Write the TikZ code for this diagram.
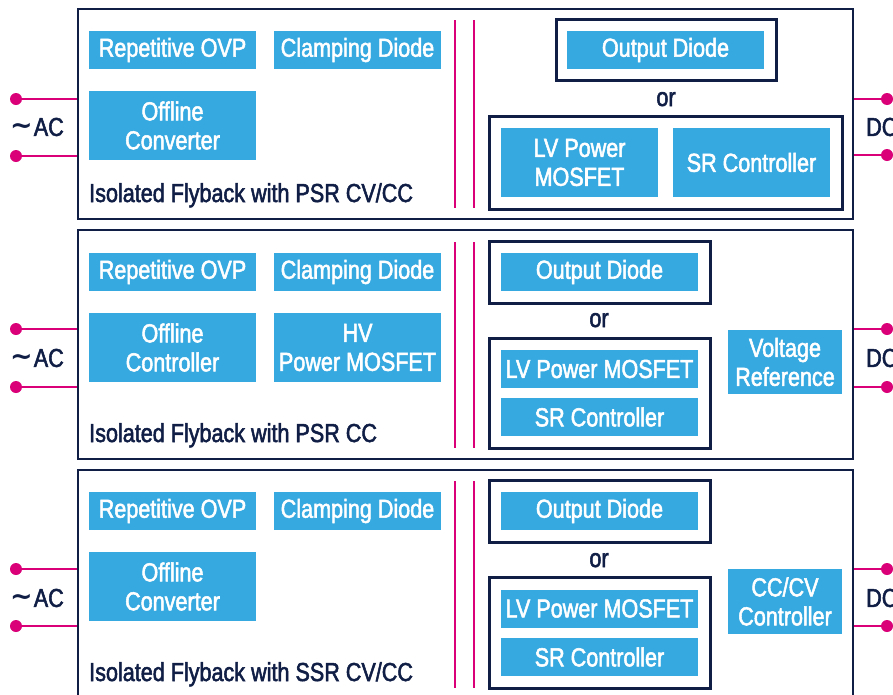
\documentclass[tikz,border=0pt]{standalone}
\usepackage{fontspec}
\setmainfont[FakeStretch=0.83,FakeBold=2]{Liberation Sans}
\newfontfamily\symfnt{DejaVu Sans}
\definecolor{stblue}{RGB}{54,169,225}
\definecolor{stnavy}{RGB}{16,30,70}
\definecolor{stpink}{RGB}{218,0,120}
\newcommand{\actxt}{{\symfnt\bfseries\fontsize{27}{27}\selectfont\raisebox{1pt}{∼}}\kern1pt AC}
\begin{document}
\begin{tikzpicture}[x=1pt,y=-1pt,
  every node/.style={font=\fontsize{26}{29}\selectfont},
  blk/.style={fill=stblue,text=white,inner sep=0pt,align=center},
  panel/.style={draw=stnavy,line width=2.4pt,inner sep=0pt},
  grp/.style={draw=stnavy,line width=3pt,inner sep=0pt},
  wire/.style={draw=stpink,line width=2pt},
  pin/.style={circle,fill=stpink,inner sep=0pt,minimum size=12pt},
  lbl/.style={text=stnavy,inner sep=0pt},
  sepline/.style={draw=stpink,line width=2pt}]
\useasboundingbox (0,0) rectangle (893,694);
\clip (0,0) rectangle (893,694);
\fill[white] (0,0) rectangle (893,694);

% ---------------- Panel 1 ----------------
\node[panel,minimum width=775pt,minimum height=210pt] (f1) at (465.5,114) {};
\node[blk,minimum width=167pt,minimum height=38pt] (ovp1) at (172.5,50) {Repetitive OVP};
\node[blk,minimum width=167pt,minimum height=38pt] (cd1) at (357.5,50) {Clamping Diode};
\node[blk,minimum width=167pt,minimum height=69pt] (off1) at (172.5,125.5) {Offline\\Converter};
\node[lbl,anchor=base west] (t1) at (89,202) {Isolated Flyback with PSR CV/CC};
\draw[sepline] (455,20) -- (455,208);
\draw[sepline] (474,20) -- (474,208);
\node[grp,minimum width=220pt,minimum height=61pt] (odf1) at (666,49.5) {};
\node[blk,minimum width=197pt,minimum height=38pt] (od1) at (665.5,50) {Output Diode};
\node[lbl,anchor=base] (or1) at (666,106) {or};
\node[grp,minimum width=353pt,minimum height=93pt] (lf1) at (665.5,162.5) {};
\node[blk,minimum width=157pt,minimum height=69pt] (lv1) at (579.5,162.5) {LV Power\\MOSFET};
\node[blk,minimum width=157pt,minimum height=69pt] (sr1) at (751.5,162.5) {SR Controller};
\node[pin] (ac1a) at (16,99) {};
\node[pin] (ac1b) at (16,156) {};
\draw[wire] (ac1a) -- (ac1a -| f1.west);
\draw[wire] (ac1b) -- (ac1b -| f1.west);
\node[lbl] (ac1) at (37,127) {\actxt};
\node[pin] (dc1a) at (887,99) {};
\node[pin] (dc1b) at (887,155) {};
\draw[wire] (dc1a) -- (dc1a -| f1.east);
\draw[wire] (dc1b) -- (dc1b -| f1.east);
\node[lbl,anchor=west] (dc1) at (866,127) {DC};

% ---------------- Panel 2 ----------------
\node[panel,minimum width=775pt,minimum height=229pt] (f2) at (465.5,344.5) {};
\node[blk,minimum width=167pt,minimum height=38pt] (ovp2) at (172.5,272) {Repetitive OVP};
\node[blk,minimum width=167pt,minimum height=38pt] (cd2) at (357.5,272) {Clamping Diode};
\node[blk,minimum width=167pt,minimum height=69pt] (off2) at (172.5,347.5) {Offline\\Controller};
\node[blk,minimum width=167pt,minimum height=69pt] (hv2) at (357.5,347.5) {HV\\Power MOSFET};
\node[lbl,anchor=base west] (t2) at (89,442) {Isolated Flyback with PSR CC};
\draw[sepline] (455,242) -- (455,448);
\draw[sepline] (474,242) -- (474,448);
\node[grp,minimum width=221pt,minimum height=62pt] (odf2) at (599.5,272) {};
\node[blk,minimum width=197pt,minimum height=38pt] (od2) at (599.5,272) {Output Diode};
\node[lbl,anchor=base] (or2) at (599,327) {or};
\node[grp,minimum width=221pt,minimum height=110pt] (lf2) at (599.5,393) {};
\node[blk,minimum width=197pt,minimum height=38pt] (lv2) at (599.5,369) {LV Power MOSFET};
\node[blk,minimum width=197pt,minimum height=38pt] (sr2) at (599.5,417) {SR Controller};
\node[blk,minimum width=114pt,minimum height=64pt] (vr2) at (785,362) {Voltage\\Reference};
\node[pin] (ac2a) at (16,329) {};
\node[pin] (ac2b) at (16,387) {};
\draw[wire] (ac2a) -- (ac2a -| f2.west);
\draw[wire] (ac2b) -- (ac2b -| f2.west);
\node[lbl] (ac2) at (37,358) {\actxt};
\node[pin] (dc2a) at (887,329) {};
\node[pin] (dc2b) at (887,387) {};
\draw[wire] (dc2a) -- (dc2a -| f2.east);
\draw[wire] (dc2b) -- (dc2b -| f2.east);
\node[lbl,anchor=west] (dc2) at (866,358) {DC};

% ---------------- Panel 3 ----------------
\node[panel,minimum width=775pt,minimum height=260pt] (f3) at (465.5,600) {};
\node[blk,minimum width=167pt,minimum height=38pt] (ovp3) at (172.5,511) {Repetitive OVP};
\node[blk,minimum width=167pt,minimum height=38pt] (cd3) at (357.5,511) {Clamping Diode};
\node[blk,minimum width=167pt,minimum height=69pt] (off3) at (172.5,586.5) {Offline\\Converter};
\node[lbl,anchor=base west] (t3) at (89,681) {Isolated Flyback with SSR CV/CC};
\draw[sepline] (455,481) -- (455,688);
\draw[sepline] (474,481) -- (474,688);
\node[grp,minimum width=221pt,minimum height=62pt] (odf3) at (599.5,511) {};
\node[blk,minimum width=197pt,minimum height=38pt] (od3) at (599.5,511) {Output Diode};
\node[lbl,anchor=base] (or3) at (599,567) {or};
\node[grp,minimum width=221pt,minimum height=111pt] (lf3) at (599.5,632.5) {};
\node[blk,minimum width=197pt,minimum height=38pt] (lv3) at (599.5,608.5) {LV Power MOSFET};
\node[blk,minimum width=197pt,minimum height=38pt] (sr3) at (599.5,657) {SR Controller};
\node[blk,minimum width=114pt,minimum height=65pt] (cc3) at (785,601.5) {CC/CV\\Controller};
\node[pin] (ac3a) at (16,569) {};
\node[pin] (ac3b) at (16,626) {};
\draw[wire] (ac3a) -- (ac3a -| f3.west);
\draw[wire] (ac3b) -- (ac3b -| f3.west);
\node[lbl] (ac3) at (37,598) {\actxt};
\node[pin] (dc3a) at (887,569) {};
\node[pin] (dc3b) at (887,626) {};
\draw[wire] (dc3a) -- (dc3a -| f3.east);
\draw[wire] (dc3b) -- (dc3b -| f3.east);
\node[lbl,anchor=west] (dc3) at (866,598) {DC};
\end{tikzpicture}
\end{document}
